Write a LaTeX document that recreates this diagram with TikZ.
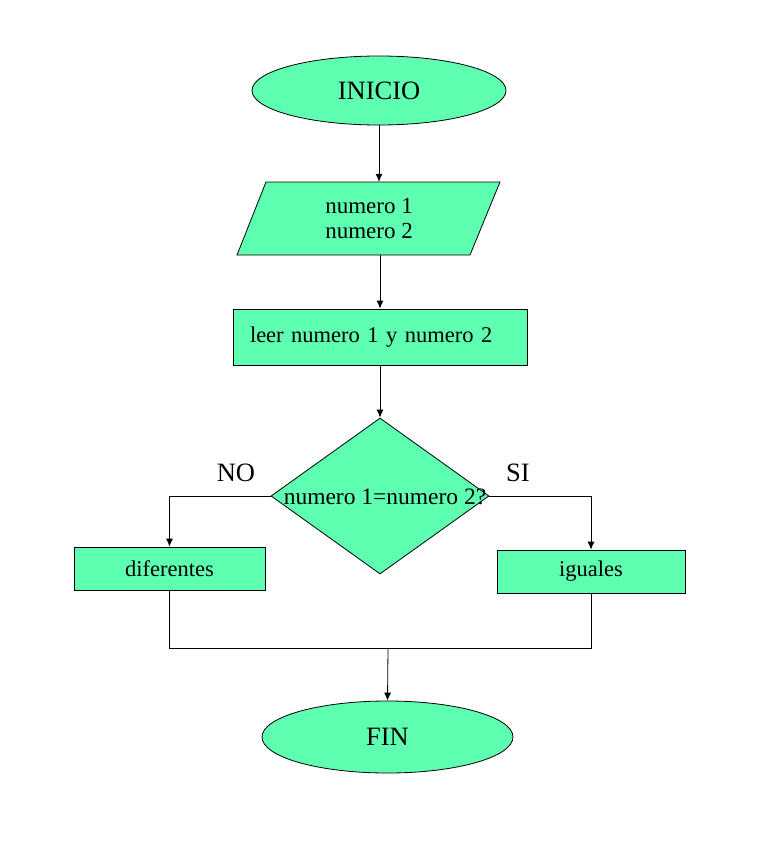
\documentclass[tikz,border=0pt]{standalone}
\usepackage{fontspec}
\setmainfont{Liberation Serif}
\usetikzlibrary{shapes.geometric,arrows.meta,backgrounds}
\definecolor{mint}{RGB}{94,255,176}
\tikzset{
  x=1pt, y=-1pt,
  shp/.style={draw=black, fill=mint, line width=0.8pt, inner sep=0pt},
  term/.style={shp, ellipse, font=\fontsize{26.5}{30}\selectfont},
  proc/.style={shp, rectangle, font=\fontsize{22.5}{24}\selectfont},
  lbl/.style={font=\fontsize{26.5}{30}\selectfont, inner sep=0pt},
  conn/.style={line width=0.8pt, draw=black},
  arr/.style={conn, -{Latex[length=8pt,width=7pt]}}
}
\begin{document}
\begin{tikzpicture}
\useasboundingbox (0,0) rectangle (780,845);
% nodes
\node[term, minimum width=254pt, minimum height=69pt] (ini) at (379,90.5) {INICIO};
\node[font=\fontsize{23}{24.5}\selectfont, align=center, minimum width=233pt, minimum height=73pt, inner sep=0pt] (in) at (369,218.5) {numero 1\\numero 2};
\begin{scope}[on background layer]
\draw[shp] (237,255) -- (266,182) -- (500,182) -- (470,255) -- cycle;
\end{scope}
\node[proc, minimum width=294pt, minimum height=56pt, text width=260pt, inner xsep=17pt, align=left] (rd) at (380,337) {leer numero 1 y numero 2};
\node[shp, diamond, minimum width=218pt, minimum height=156pt] (dec) at (380,496) {};
\node[font=\fontsize{23.5}{25}\selectfont, inner sep=0pt] (dect) at (385,497) {numero 1=numero 2?};
\node[lbl] (no) at (236,473) {NO};
\node[lbl] (si) at (518,473) {SI};
\node[proc, minimum width=191pt, minimum height=43pt] (dif) at (169.5,568.5) {diferentes};
\node[proc, minimum width=188pt, minimum height=43pt] (igu) at (591,571.5) {iguales};
\node[term, minimum width=251pt, minimum height=72pt] (fin) at (387.5,737) {FIN};
\coordinate (mL) at (169.5,648);
\coordinate (mR) at (591,648);
\coordinate (mM) at (388,648);
% connectors
\draw[arr] (ini.south) -- (ini.south |- in.north);
\draw[arr] (rd.north |- in.south) -- (rd.north);
\draw[arr] (rd.south) -- (dec.north);
\draw[arr] (dec.west) -| (dif.north);
\draw[arr] (dec.east) -| (igu.north);
\draw[conn] (dif.south) -- (mL) -- (mR) -- (igu.south);
\draw[arr] (mM) -- (fin.north);
\end{tikzpicture}
\end{document}
